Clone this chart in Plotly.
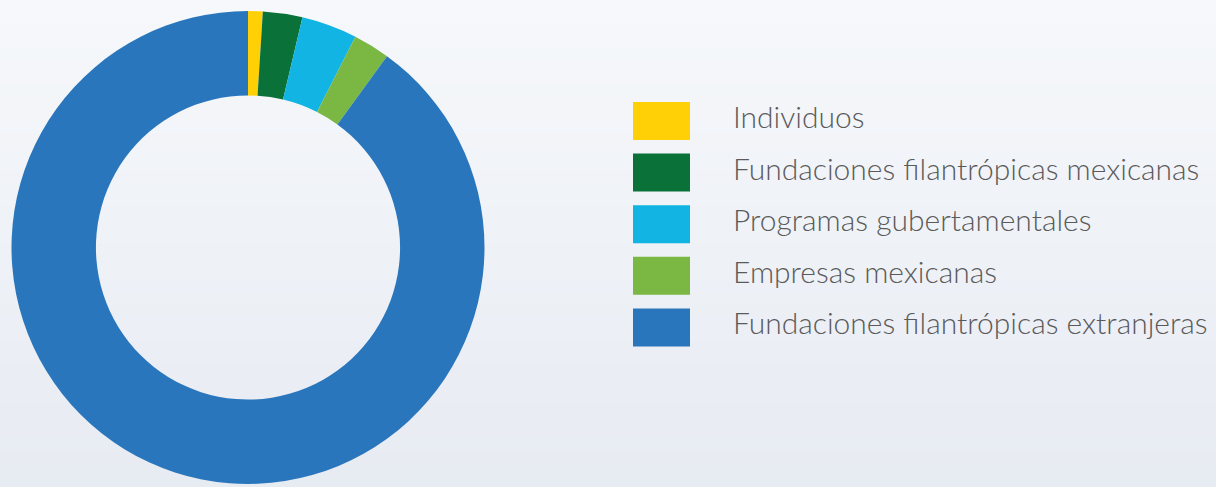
import plotly.graph_objects as go

# Data
categories = [
    "Individuos",
    "Fundaciones filantrópicas mexicanas",
    "Programas gubertamentales",
    "Empresas mexicanas",
    "Fundaciones filantrópicas extranjeras",
]
values = [1.0, 2.7, 3.8, 2.5, 90.0]
colors = ["#FFD006", "#0A7239", "#12B4E4", "#7AB843", "#2A76BC"]

W, H = 1216, 487

fig = go.Figure()

fig.add_trace(go.Pie(
    labels=categories,
    values=values,
    marker=dict(colors=colors, line=dict(width=0)),
    hole=0.643,
    sort=False,
    direction="clockwise",
    rotation=0,
    textinfo="none",
    hoverinfo="label+percent",
    showlegend=False,
    domain=dict(x=[(248 - 236.5) / W, (248 + 236.5) / W],
                y=[(239.5 - 236.5) / H, (239.5 + 236.5) / H]),
))

shapes = []
# background vertical gradient
n = 40
top = (246, 248, 251)
bot = (231, 235, 242)
for i in range(n):
    t = i / (n - 1)
    c = tuple(round(top[k] + (bot[k] - top[k]) * t) for k in range(3))
    shapes.append(dict(type="rect", xref="paper", yref="paper",
                       x0=0, x1=1, y0=1 - (i + 1) / n, y1=1 - i / n + 0.001,
                       fillcolor="rgb(%d,%d,%d)" % c, line=dict(width=0),
                       layer="below"))

annotations = []
y_first = 121
step = 51.6
for i, (cat, col) in enumerate(zip(categories, colors)):
    yc = y_first + i * step
    shapes.append(dict(type="rect", xref="paper", yref="paper",
                       x0=633 / W, x1=690 / W,
                       y0=1 - (yc + 19) / H, y1=1 - (yc - 19) / H,
                       fillcolor=col, line=dict(width=0), layer="above"))
    annotations.append(dict(xref="paper", yref="paper", x=731 / W, y=1 - (yc - 5) / H,
                            xanchor="left", yanchor="middle", showarrow=False,
                            text=cat,
                            font=dict(family="Lato", size=30, color="#5A5A5A", weight=300)))

fig.update_layout(
    width=W, height=H,
    margin=dict(l=0, r=0, t=0, b=0),
    paper_bgcolor="#EEF1F6",
    plot_bgcolor="rgba(0,0,0,0)",
    shapes=shapes,
    annotations=annotations,
    showlegend=False,
)

fig.write_html("out.html",
               config={"displayModeBar": False},
               post_script="document.body.style.margin='0px';document.body.style.overflow='hidden';")
